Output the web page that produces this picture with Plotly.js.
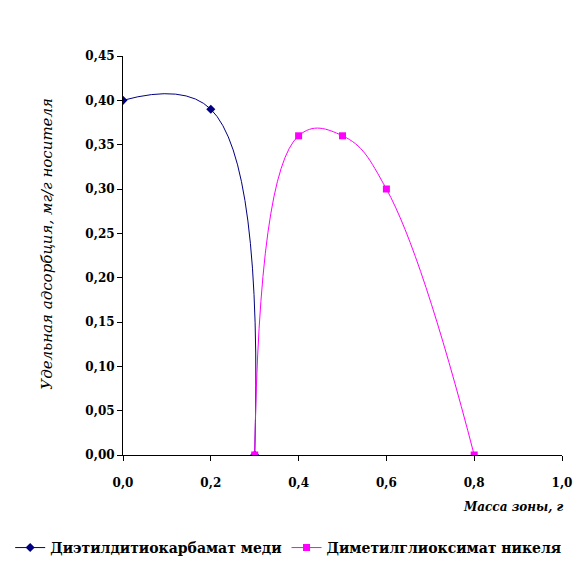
<!DOCTYPE html>
<html><head><meta charset="utf-8">
<script src="https://cdn.plot.ly/plotly-3.0.1.min.js"></script>
<style>html,body{margin:0;padding:0;background:#fff}#chart{width:585px;height:574px}</style>
</head><body><div id="chart"></div>
<script>
const seriesNames = ["Диэтилдитиокарбамат меди", "Диметилглиоксимат никеля"];
const cuX = [0.0, 0.2, 0.3];
const cuY = [0.40, 0.39, 0.00];
const niX = [0.3, 0.4, 0.5, 0.6, 0.8];
const niY = [0.00, 0.36, 0.36, 0.30, 0.00];
const xTitle = "Масса зоны, г";
const yTitle = "Удельная адсорбция, мг/г носителя";

const serif = "DejaVu Serif";
const traces = [
  {x: cuX, y: cuY, name: seriesNames[0], type: "scatter", mode: "lines+markers",
   line: {color: "#000080", width: 1, shape: "spline", smoothing: 1.2},
   marker: {symbol: "diamond", size: 7, color: "#000080"}},
  {x: niX, y: niY, name: seriesNames[1], type: "scatter", mode: "lines+markers",
   line: {color: "#FF00FF", width: 1, shape: "spline", smoothing: 1.2},
   marker: {symbol: "square", size: 7, color: "#FF00FF"}}
];
const layout = {
  width: 585, height: 574,
  font: {family: serif},
  margin: {l: 123, r: 23, t: 56, b: 119, autoexpand: false},
  paper_bgcolor: "#fff", plot_bgcolor: "#fff",
  separators: ", ",
  showlegend: true,
  legend: {orientation: "h", x: -0.257, xanchor: "left", y: -0.233, yanchor: "middle",
           itemwidth: 30, tracegroupgap: 0,
           font: {family: serif, size: 14, color: "#000", weight: "bold"}},
  xaxis: {range: [0, 1], dtick: 0.2, tickformat: ".1f", showgrid: false, zeroline: false,
          showline: true, linecolor: "#000", linewidth: 1, ticks: "outside", ticklen: 5,
          ticklabelstandoff: 12,
          tickcolor: "#000", tickfont: {family: serif, size: 12, color: "#000", weight: "bold"}},
  yaxis: {range: [0, 0.45], dtick: 0.05, tickformat: ".2f", showgrid: false, zeroline: false,
          showline: true, linecolor: "#000", linewidth: 1, ticks: "outside", ticklen: 5,
          tickcolor: "#000", tickfont: {family: serif, size: 12, color: "#000", weight: "bold"}},
  annotations: [
    {text: xTitle, xref: "paper", yref: "paper", x: 1.01, y: -0.13, xanchor: "right", yanchor: "middle",
     showarrow: false, font: {family: serif, size: 12, color: "#000", weight: "bold", style: "italic"}},
    {text: yTitle, xref: "paper", yref: "paper", x: -0.175, y: 0.53, xanchor: "center", yanchor: "middle",
     textangle: -90, showarrow: false, font: {family: serif, size: 15, color: "#000", style: "italic"}}
  ]
};
Plotly.newPlot("chart", traces, layout, {displayModeBar: false, staticPlot: true});
</script></body></html>
